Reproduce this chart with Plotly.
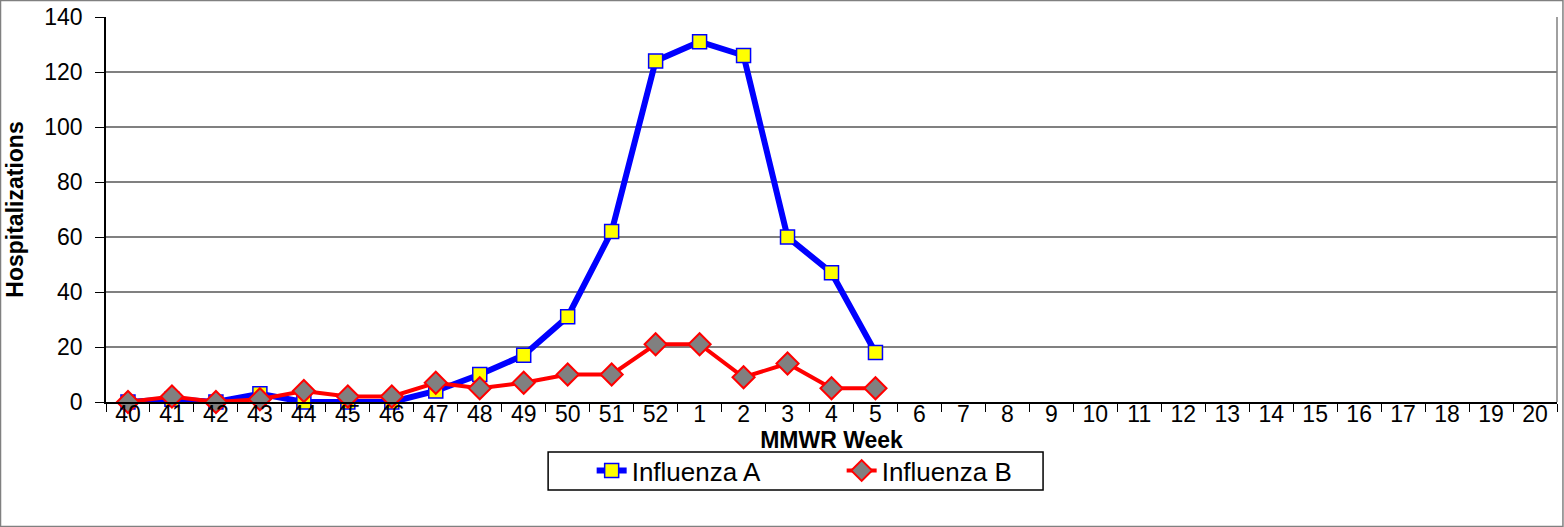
import plotly.graph_objects as go

weeks = ['40', '41', '42', '43', '44', '45', '46', '47', '48', '49', '50', '51', '52',
         '1', '2', '3', '4', '5', '6', '7', '8', '9', '10', '11', '12', '13', '14',
         '15', '16', '17', '18', '19', '20']
flu_a = [0, 1, 0, 3, 0, 0, 0, 4, 10, 17, 31, 62, 124, 131, 126, 60, 47, 18]
flu_b = [0, 2, 0, 1, 4, 2, 2, 7, 5, 7, 10, 10, 21, 21, 9, 14, 5, 5]

fig = go.Figure()

# Influenza A - thick blue line with yellow squares
fig.add_trace(go.Scatter(
    x=weeks[:len(flu_a)], y=flu_a, name='Influenza A', mode='lines+markers',
    line=dict(color='#0000FF', width=6),
    marker=dict(symbol='square', size=14, color='#FFFF00',
                line=dict(color='#0000FF', width=1.5)),
    cliponaxis=False,
))

# Influenza B - red line with gray diamonds
fig.add_trace(go.Scatter(
    x=weeks[:len(flu_b)], y=flu_b, name='Influenza B', mode='lines+markers',
    line=dict(color='#FF0000', width=4),
    marker=dict(symbol='diamond', size=17, color='#808080',
                line=dict(color='#FF0000', width=2)),
    cliponaxis=False,
))

fig.update_layout(
    width=1564, height=527,
    margin=dict(l=106, r=7, t=17, b=125, autoexpand=False),
    paper_bgcolor='white', plot_bgcolor='white',
    font=dict(family='Liberation Sans, Arial, sans-serif', size=23, color='black'),
    showlegend=True,
    legend=dict(
        orientation='h', x=0.507, xanchor='center', y=-0.117, yanchor='top',
        borderwidth=0, bgcolor='rgba(0,0,0,0)',
        font=dict(size=26), entrywidth=205, traceorder='normal',
    ),
    shapes=[
        # outer chart border
        dict(type='rect', xref='paper', yref='paper',
             x0=-0.0727, x1=1.0041, y0=-0.3235, y1=1.043,
             line=dict(color='#808080', width=1.5), layer='below'),
        # plot area frame (right side)
        dict(type='line', xref='paper', yref='paper', x0=1, x1=1, y0=0, y1=1,
             line=dict(color='#808080', width=1.5)),
        # legend frame
        dict(type='rect', xref='paper', yref='paper',
             x0=0.3047, x1=0.6458, y0=-0.2286, y1=-0.1299,
             line=dict(color='black', width=1.5), fillcolor='white', layer='below'),
    ],
)

fig.update_xaxes(
    type='category', categoryorder='array', categoryarray=weeks,
    range=[-0.5, len(weeks) - 0.5],
    showline=True, linecolor='black', linewidth=1.5,
    ticks='outside', tickson='boundaries', ticklen=8, tickcolor='black',
    ticklabelstandoff=-9, automargin=False,
    showgrid=False,
    title=dict(text='<b>MMWR Week</b>', font=dict(size=23), standoff=0),
)

fig.update_yaxes(
    range=[0, 140], dtick=20,
    showline=True, linecolor='black', linewidth=1.5,
    ticks='outside', ticklen=9, tickcolor='black',
    ticklabelstandoff=8, automargin=False,
    showgrid=True, gridcolor='#808080', gridwidth=1.5,
    zeroline=False,
    title=dict(text='<b>Hospitalizations</b>', font=dict(size=23), standoff=14),
)

# drop the default page margin so the figure sits at the window's top-left corner
fig.write_html('out.html', config={'displayModeBar': False},
               post_script="document.body.style.margin='0';")
